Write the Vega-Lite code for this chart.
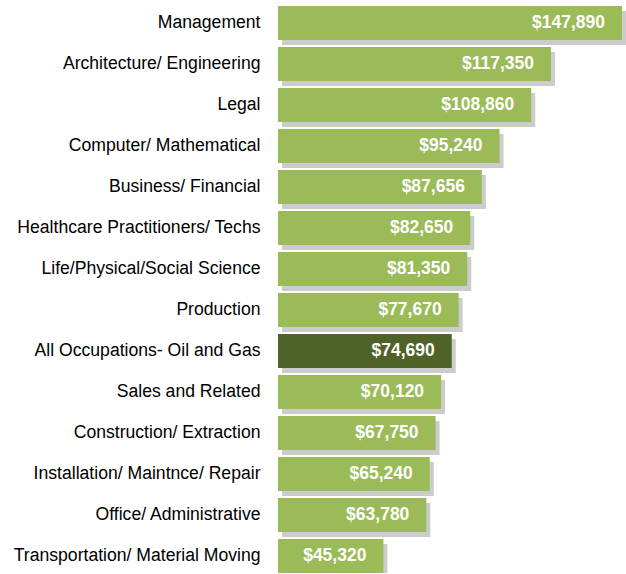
{
  "$schema": "https://vega.github.io/schema/vega-lite/v6.json",
  "autosize": {"type": "none"},
  "padding": {"left": 278, "top": 6, "right": 4, "bottom": 0},
  "width": 344,
  "height": 567,
  "background": "white",
  "config": {"view": {"stroke": null}, "font": "Liberation Sans"},
  "data": {"values": [
    {"occupation": "Management", "salary": 147890, "highlight": "no"},
    {"occupation": "Architecture/ Engineering", "salary": 117350, "highlight": "no"},
    {"occupation": "Legal", "salary": 108860, "highlight": "no"},
    {"occupation": "Computer/ Mathematical", "salary": 95240, "highlight": "no"},
    {"occupation": "Business/ Financial", "salary": 87656, "highlight": "no"},
    {"occupation": "Healthcare Practitioners/ Techs", "salary": 82650, "highlight": "no"},
    {"occupation": "Life/Physical/Social Science", "salary": 81350, "highlight": "no"},
    {"occupation": "Production", "salary": 77670, "highlight": "no"},
    {"occupation": "All Occupations- Oil and Gas", "salary": 74690, "highlight": "yes"},
    {"occupation": "Sales and Related", "salary": 70120, "highlight": "no"},
    {"occupation": "Construction/ Extraction", "salary": 67750, "highlight": "no"},
    {"occupation": "Installation/ Maintnce/ Repair", "salary": 65240, "highlight": "no"},
    {"occupation": "Office/ Administrative", "salary": 63780, "highlight": "no"},
    {"occupation": "Transportation/ Material Moving", "salary": 45320, "highlight": "no"}
  ]},
  "encoding": {
    "y": {
      "field": "occupation", "type": "nominal", "sort": null,
      "scale": {"paddingInner": 0.17, "paddingOuter": 0},
      "axis": {"title": null, "domain": false, "ticks": false, "labelPadding": 18,
               "labelFontSize": 17.6, "labelColor": "#000000", "labelFont": "Liberation Sans", "labelLimit": 300}
    },
    "x": {
      "field": "salary", "type": "quantitative",
      "scale": {"domain": [0, 147890], "nice": false, "zero": true},
      "axis": null
    }
  },
  "layer": [
    {
      "mark": {"type": "bar", "color": "#7f7f7f", "opacity": 0.4, "xOffset": 4, "x2Offset": 4, "yOffset": 5, "y2Offset": 5}
    },
    {
      "mark": {"type": "bar"},
      "encoding": {
        "color": {"field": "highlight", "type": "nominal", "legend": null,
                  "scale": {"domain": ["no", "yes"], "range": ["#9bbb59", "#4f6228"]}}
      }
    },
    {
      "mark": {"type": "text", "align": "right", "baseline": "middle", "dx": -17, "color": "white",
               "fontWeight": "bold", "fontSize": 17.5, "font": "Liberation Sans"},
      "encoding": {"text": {"field": "salary", "type": "quantitative", "format": "$,.0f"}}
    }
  ]
}
